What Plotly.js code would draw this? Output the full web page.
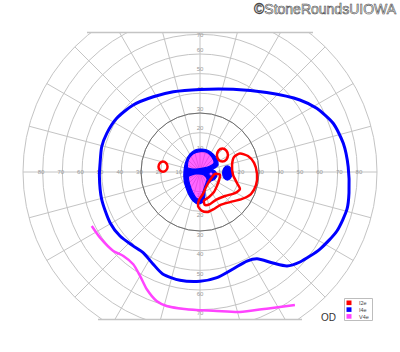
<!DOCTYPE html>
<html><head><meta charset="utf-8">
<script src="https://cdn.plot.ly/plotly-3.0.1.min.js"></script>
<style>
html,body{margin:0;padding:0;overflow:hidden;background:#fff;width:400px;height:352px}
#chart{position:absolute;left:0;top:-8px;width:400px;height:360px}
path.js-fill{fill-rule:evenodd}
g.annotation[data-index="0"] text{stroke:#4a4a4a;stroke-width:0.6px}
</style></head><body><div id="chart"></div>
<script>
// ---- grid / tick data ----
const ringValues = [10, 20, 30, 40, 50, 60, 70, 80, 90];
const spokeAngles = [0, 15, 30, 45, 60, 75, 90, 105, 120, 135, 150, 165, 180, 195, 210, 225, 240, 255, 270, 285, 300, 315, 330, 345];
const horizLabels = ['10', '20', '30', '40', '50', '60', '70', '80', '90'];
const vertLabels = ['10', '20', '30', '40', '50', '60', '70'];
const legendNames = ['I2e', 'I4e', 'V4e'];
const legendColors = ['#ff0000', '#0000ff', '#ff44ff'];

// ---- I4e outer isopter (eccentricity deg, meridian deg) ----
const i4eOuterR = [42.0, 45.3, 52.7, 62.6, 67.6, 72.1, 74.3, 75.4, 76.5, 77.1, 75.8, 72.5, 68.4, 65.1, 59.3, 52.8, 51.2, 52.1, 54.4, 55.6, 56.0, 55.2, 52.5, 50.2, 50.7, 52.1, 52.5, 51.9, 51.2, 51.0, 51.6, 51.3, 50.4, 48.1, 45.0, 43.0, 42.0];
const i4eOuterT = [90, 68.2, 50.0, 35.8, 28.6, 20.1, 11.3, 2.0, -8.0, -14.1, -23.3, -32.7, -42.0, -47.2, -51.3, -56.7, -62.2, -71.2, -80.9, -90, -100.5, -110.1, -117.1, -125.2, -132.2, -141.3, -150.6, -164.5, -177.7, -185.0, -194.4, -202.5, -212.8, -225.1, -238.2, -251.6, -270];

// ---- V4e isopter (open, inferior) ----
const v4eR = [61.5, 60.8, 59.6, 57.8, 57.9, 61.0, 65.5, 69.2, 70.2, 70.1, 71.2, 74.0, 77.3, 83.1];
const v4eT = [-153.5, -146.7, -137.7, -132.4, -125.9, -120.0, -114.4, -108.6, -104.0, -95.5, -83.1, -74.1, -64.0, -54.5];

// ---- central scotomas (horizontal deg, vertical deg) ----
const i4eScotomaX = [0, 3.6, 6.6, 8.6, 9.2, 7.6, 6.1, 7.6, 8.6, 7.6, 5.6, 3.6, 2.5, 2.5, 1.5, -1.0, -3.6, -5.6, -7.1, -8.1, -8.1, -7.1, -5.1, -2.5, 0];
const i4eScotomaY = [11.7, 11.2, 9.2, 6.6, 3.6, 2.0, 1.5, 0.5, -1.5, -3.6, -4.6, -6.6, -9.2, -12.2, -15.3, -16.3, -14.7, -11.7, -8.1, -4.1, 1.0, 5.6, 9.2, 11.2, 11.7];
const i4eBlindX = [16.3, 15.6, 13.9, 12.2, 11.5, 12.2, 13.9, 15.6, 16.3];
const i4eBlindY = [-0.5, 2.0, 3.1, 2.0, -0.5, -3.0, -4.1, -3.0, -0.5];
const v4eUpperX = [-6.3, -5.8, -3.6, 0, 3.6, 6.1, 7.1, 4.6, 1.5, -2.5, -6.3];
const v4eUpperY = [2.3, 6.3, 9.2, 10.4, 9.9, 7.6, 4.6, 2.8, 2.0, 1.5, 2.3];
const v4eLowerX = [-5.8, -2.0, 2.0, 3.6, 2.3, 1.2, 0.3, -1.8, -3.8, -5.3, -5.8];
const v4eLowerY = [-2.3, -1.0, -1.5, -3.6, -7.6, -11.2, -14.0, -13.4, -10.2, -6.1, -2.3];
const v4eSpotX = [6.8, 5.6, 4.4, 5.6, 6.8];
const v4eSpotY = [-1.0, 0.2, -1.0, -2.2, -1.0];

// ---- I2e isopters ----
const i2eLeftX = [-16.5, -17.2, -18.8, -20.4, -21.1, -20.4, -18.8, -17.2, -16.5];
const i2eLeftY = [2.7, 4.5, 5.3, 4.5, 2.7, 0.9, 0.1, 0.9, 2.7];
const i2eUpperX = [14.2, 13.4, 11.4, 9.4, 8.6, 9.4, 11.4, 13.4, 14.2];
const i2eUpperY = [8.6, 10.9, 11.9, 10.9, 8.6, 6.3, 5.3, 6.3, 8.6];
const i2eBandX = [7.6, 5.1, 3.1, 1.5, -0.5, -1.0, 1.0, 4.1, 7.1, 10.2, 15.3, 21.4, 25.9, 28.5, 29.0, 27.5, 24.4, 20.3, 17.3, 16.3, 16.8, 18.8, 20.3, 17.8, 12.7, 8.1, 5.1, 2.5, 2.0, 4.6, 7.1, 8.6, 9.7, 10.2, 7.6];
const i2eBandY = [-1.0, -4.1, -7.6, -11.2, -14.2, -17.3, -19.8, -20.3, -18.8, -16.8, -15.3, -13.7, -11.2, -6.6, -1.0, 4.6, 8.1, 9.4, 7.6, 3.6, -1.5, -5.6, -8.6, -10.7, -12.2, -14.2, -16.3, -16.8, -14.7, -12.7, -10.2, -7.1, -4.1, -1.5, -1.0];

// convert (x,y) degree parts to polar arrays, with gaps between parts
function toPolar(parts) {
  const r = [], t = [];
  parts.forEach((p, k) => {
    if (k) { r.push(null); t.push(null); }
    p[0].forEach((x, i) => {
      const y = p[1][i];
      r.push(Math.hypot(x, y));
      t.push(Math.atan2(y, x) * 180 / Math.PI);
    });
  });
  return { r, t };
}

const blueFill = toPolar([[i4eScotomaX, i4eScotomaY], [v4eUpperX, v4eUpperY], [v4eLowerX, v4eLowerY], [v4eSpotX, v4eSpotY], [i4eBlindX, i4eBlindY]]);
const magFill = toPolar([[v4eUpperX, v4eUpperY], [v4eLowerX, v4eLowerY], [v4eSpotX, v4eSpotY]]);
const redLines = toPolar([[i2eLeftX, i2eLeftY], [i2eUpperX, i2eUpperY], [i2eBandX, i2eBandY]]);

// tick labels positioned just outside each ring
const labR = [], labT = [], labText = [];
ringValues.forEach((v, i) => { labR.push(v + 0.8); labT.push(0); labText.push(horizLabels[i]); });
ringValues.forEach((v, i) => { labR.push(v + 0.8); labT.push(180); labText.push(horizLabels[i]); });
vertLabels.forEach((s, i) => { labR.push(Math.min(ringValues[i] + 1.9, 69.6)); labT.push(90); labText.push(s); });
vertLabels.forEach((s, i) => { labR.push(ringValues[i] + 2.2); labT.push(270); labText.push(s); });

const FONT = 'Liberation Sans, Arial, sans-serif';
const spline = { shape: 'spline', smoothing: 0.7 };

const traces = [
  { type: 'scatterpolar', subplot: 'polar', mode: 'text', r: labR, theta: labT, text: labText,
    textfont: { size: 6, color: '#9a9a9a', family: FONT }, textposition: 'middle center', cliponaxis: false, hoverinfo: 'skip', showlegend: false },
  { type: 'scatterpolar', subplot: 'polar2', mode: 'lines', name: 'V4e', r: v4eR, theta: v4eT,
    line: Object.assign({ color: legendColors[2], width: 2.5 }, spline), showlegend: false },
  { type: 'scatterpolar', subplot: 'polar2', mode: 'lines', name: 'I4e', r: i4eOuterR, theta: i4eOuterT,
    line: Object.assign({ color: legendColors[1], width: 3 }, spline), showlegend: false },
  { type: 'scatterpolar', subplot: 'polar2', mode: 'none', name: 'V4e', r: magFill.r, theta: magFill.t,
    fill: 'toself', fillcolor: 'rgba(255,0,255,0.6)', line: Object.assign({ width: 0 }, spline), connectgaps: false, showlegend: false },
  { type: 'scatterpolar', subplot: 'polar2', mode: 'lines', name: 'I4e', r: blueFill.r, theta: blueFill.t,
    fill: 'toself', fillcolor: '#0000ff', line: Object.assign({ color: legendColors[1], width: 1.2 }, spline), connectgaps: false, showlegend: false },
  { type: 'scatterpolar', subplot: 'polar2', mode: 'lines', name: 'I2e', r: redLines.r, theta: redLines.t,
    line: Object.assign({ color: legendColors[0], width: 2.5 }, spline), connectgaps: false, showlegend: false }
];

const W = 400, H = 360, OFF = 8;
const fx = p => p / W;
const fy = p => 1 - (p + OFF) / H;
const dom = { x: [23 / W, 377 / W], y: [0, 1] };

const shapes = [
  { type: 'rect', xref: 'paper', yref: 'paper', x0: -0.02, x1: 1.02, y0: fy(32.5), y1: 1.05, fillcolor: '#ffffff', line: { width: 0 }, layer: 'above' },
  { type: 'rect', xref: 'paper', yref: 'paper', x0: -0.02, x1: 1.02, y0: -0.05, y1: fy(319.5), fillcolor: '#ffffff', line: { width: 0 }, layer: 'above' },
  { type: 'line', xref: 'paper', yref: 'paper', x0: fx(87), x1: fx(313), y0: fy(32.5), y1: fy(32.5), line: { color: '#c4c4c4', width: 1.3 }, layer: 'above' },
  { type: 'line', xref: 'paper', yref: 'paper', x0: fx(98), x1: fx(302), y0: fy(319.5), y1: fy(319.5), line: { color: '#c4c4c4', width: 1.3 }, layer: 'above' },
  { type: 'rect', xref: 'paper', yref: 'paper', x0: fx(344.5), x1: fx(372.5), y0: fy(320.5), y1: fy(298.5), fillcolor: '#ffffff', line: { color: '#bdbdbd', width: 1 }, layer: 'above' }
];
const annotations = [
  { text: '©StoneRoundsUIOWA', xref: 'paper', yref: 'paper', x: fx(398.5), y: fy(9), xanchor: 'right', yanchor: 'middle', showarrow: false,
    font: { family: FONT, size: 14, color: '#ffffff' } },
  { text: 'OD', xref: 'paper', yref: 'paper', x: fx(328.5), y: fy(317.5), xanchor: 'center', yanchor: 'middle', showarrow: false,
    font: { family: FONT, size: 10, color: '#333333' } }
];
legendNames.forEach((n, i) => {
  const top = 300.5 + 6.8 * i;
  shapes.push({ type: 'rect', xref: 'paper', yref: 'paper', x0: fx(346.5), x1: fx(351.5), y0: fy(top + 4.6), y1: fy(top), fillcolor: legendColors[i], line: { width: 0 }, layer: 'above' });
  annotations.push({ text: n, xref: 'paper', yref: 'paper', x: fx(356.5), y: fy(top + 2.4), xanchor: 'left', yanchor: 'middle', showarrow: false,
    font: { family: FONT, size: 5.5, color: '#444444' } });
});

const layout = {
  width: W, height: H,
  margin: { l: 0, r: 0, t: 0, b: 0, pad: 0 },
  paper_bgcolor: '#ffffff',
  showlegend: false,
  polar: {
    domain: dom, bgcolor: '#ffffff',
    radialaxis: { range: [0, 90], tickvals: ringValues, showticklabels: false, ticks: '', showline: false,
      gridcolor: '#c4c4c4', gridwidth: 1, layer: 'below traces' },
    angularaxis: { tickvals: spokeAngles, showticklabels: false, ticks: '', showline: true, linecolor: '#c4c4c4', linewidth: 1,
      gridcolor: '#c4c4c4', gridwidth: 1, rotation: 0, direction: 'counterclockwise', layer: 'below traces' }
  },
  polar2: {
    domain: dom, bgcolor: 'rgba(0,0,0,0)',
    radialaxis: { range: [0, 90], tickvals: [30], showticklabels: false, ticks: '', showline: false,
      gridcolor: '#6e6e6e', gridwidth: 1, layer: 'below traces' },
    angularaxis: { tickvals: spokeAngles, showgrid: false, showticklabels: false, ticks: '', showline: false,
      rotation: 0, direction: 'counterclockwise', layer: 'below traces' }
  },
  shapes: shapes,
  annotations: annotations
};

Plotly.newPlot('chart', traces, layout, { staticPlot: true, displayModeBar: false });
</script></body></html>
